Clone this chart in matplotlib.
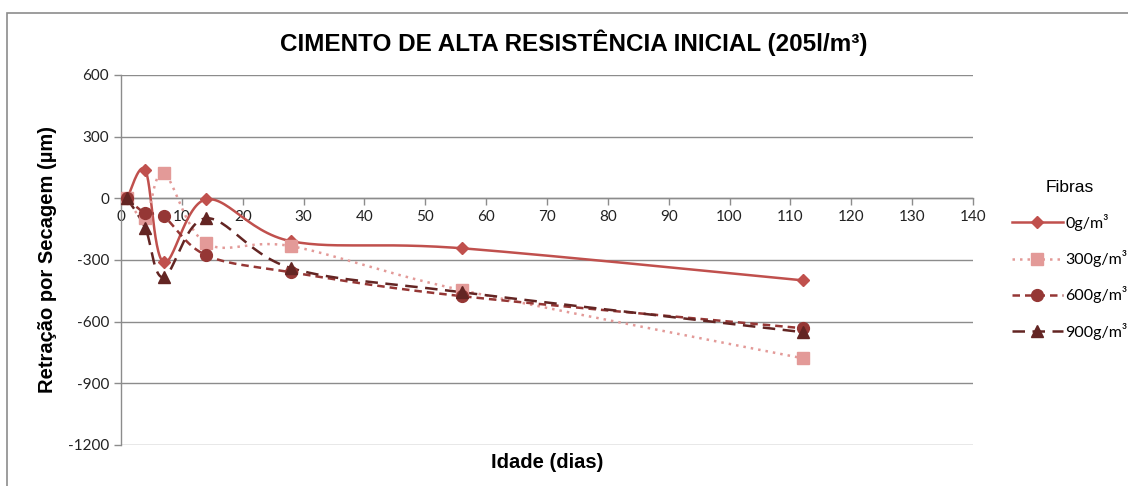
import numpy as np
import matplotlib
matplotlib.use("Agg")
import matplotlib.pyplot as plt
from matplotlib.patches import Rectangle

plt.rcParams["axes.unicode_minus"] = False

# ages (days) and drying shrinkage per fibre dosage
idade = [1, 4, 7, 14, 28, 56, 112]
fib_0 = [0, 136, -311, -5, -209, -243, -399]
fib_300 = [0, -97, 122, -219, -233, -447, -778]
fib_600 = [0, -73, -88, -277, -360, -476, -632]
fib_900 = [0, -146, -384, -97, -340, -457, -651]

labels = ["0g/m³", "300g/m³", "600g/m³", "900g/m³"]
x_ticks = list(range(0, 141, 10))
y_ticks = [600, 300, 0, -300, -600, -900, -1200]


def smooth(x, y, n=30):
    # spreadsheet-style smoothed line: cubic bezier through every point
    x = np.asarray(x, float); y = np.asarray(y, float)
    px = np.concatenate([[x[0]], x, [x[-1]]])
    py = np.concatenate([[y[0]], y, [y[-1]]])
    xs, ys = [], []
    t = np.linspace(0, 1, n)
    for i in range(1, len(px) - 2):
        p0 = np.array([px[i], py[i]]); p3 = np.array([px[i + 1], py[i + 1]])
        c1 = p0 + (np.array([px[i + 1], py[i + 1]]) - np.array([px[i - 1], py[i - 1]])) / 6
        c2 = p3 - (np.array([px[i + 2], py[i + 2]]) - np.array([px[i], py[i]])) / 6
        b = ((1 - t) ** 3)[:, None] * p0 + (3 * (1 - t) ** 2 * t)[:, None] * c1 \
            + (3 * (1 - t) * t ** 2)[:, None] * c2 + (t ** 3)[:, None] * p3
        xs.extend(b[:, 0]); ys.extend(b[:, 1])
    return xs, ys


fig = plt.figure(figsize=(11.28, 4.86), dpi=100)
ax = fig.add_axes([0.1073, 0.0844, 0.7553, 0.7613])

tick_font = "Lato"

styles = [
    (fib_0, "#c0504d", "-", "D", 6.5),
    (fib_300, "#e39a98", (0, (1, 2)), "s", 8),
    (fib_600, "#953735", (0, (3, 2)), "o", 8.5),
    (fib_900, "#632523", (0, (5, 3)), "^", 8.5),
]
for (vals, col, ls, mk, ms), lab in zip(styles, labels):
    sx, sy = smooth(idade, vals)
    ax.plot(sx, sy, color=col, linestyle=ls, lw=1.8, zorder=3)
    ax.plot(idade, vals, linestyle="none", marker=mk, ms=ms, color=col, zorder=4)
    ax.plot([], [], color=col, linestyle=ls, lw=1.8, marker=mk, ms=ms, label=lab)

ax.set_xlim(0, 140)
ax.set_ylim(-1200, 600)
ax.set_xticks(x_ticks)
ax.set_yticks(y_ticks)
ax.grid(axis="y", color="#8c8c8c", lw=1)
ax.set_axisbelow(True)

for s in ["top", "right"]:
    ax.spines[s].set_visible(False)
ax.spines["bottom"].set_position(("data", 0))
ax.spines["bottom"].set_color("#8c8c8c")
ax.spines["left"].set_color("#8c8c8c")
ax.spines["bottom"].set_linewidth(1)
ax.spines["left"].set_linewidth(1)
ax.tick_params(axis="both", color="#8c8c8c", length=5, width=1, direction="out",
               labelsize=11, labelcolor="#222222")
for lbl in ax.get_xticklabels() + ax.get_yticklabels():
    lbl.set_fontfamily(tick_font)

ax.set_ylabel("Retração por Secagem (µm)", fontsize=14.5, fontweight="bold",
              family="Liberation Sans", labelpad=8)
fig.text(0.4855, 0.048, "Idade (dias)", ha="center", va="center", fontsize=14.5,
         fontweight="bold", family="Liberation Sans")
fig.text(0.509, 0.913, "CIMENTO DE ALTA RESISTÊNCIA INICIAL (205l/m³)", ha="center",
         va="center", fontsize=17.5, fontweight="bold", family="Liberation Sans")

leg = fig.legend(loc="upper left", bbox_to_anchor=(0.884, 0.66), frameon=False,
                 title="Fibras", handlelength=3.2, handletextpad=0.15, labelspacing=1.2,
                 prop={"family": tick_font, "size": 11.5})
leg.get_title().set_fontsize(12.5)
leg.get_title().set_fontfamily("Liberation Sans")
leg._legend_box.align = "center"
leg._legend_box.sep = 14

# chart border (top and left edges fall inside the canvas)
fig.patches.append(Rectangle((0.0062, -0.1), 1.2, 1.1 - 13 / 486, transform=fig.transFigure,
                             fill=False, edgecolor="#8c8c8c", lw=1.2))

fig.savefig("out.png", dpi=100)
